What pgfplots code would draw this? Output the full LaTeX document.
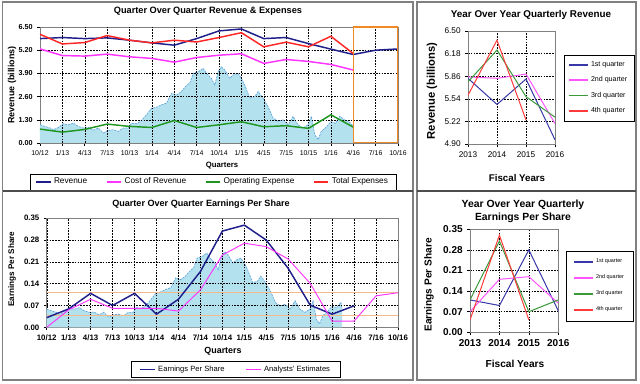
\documentclass[border=0pt]{standalone}
\usepackage{pgfplots}
\usepackage{pgfplotstable}
\pgfplotsset{compat=1.18}
\usepackage{fontspec}
\setmainfont{Liberation Sans}
\definecolor{rev}{HTML}{1F1F8C}
\definecolor{cor}{HTML}{FF33FF}
\definecolor{opx}{HTML}{1E9620}
\definecolor{tex}{HTML}{FF2626}
\definecolor{areaf}{HTML}{B4E1EE}
\definecolor{areal}{HTML}{5BA4DE}
\definecolor{obox}{HTML}{F08A24}
\definecolor{oline}{HTML}{F6B98A}
\definecolor{frame}{HTML}{808080}
\definecolor{q1}{HTML}{3838A8}
\definecolor{q2}{HTML}{FF55FF}
\definecolor{q3}{HTML}{3A9A3A}
\definecolor{q4}{HTML}{FF3A3A}
\newcommand{\fs}[1]{\fontsize{#1}{#1}\selectfont}
\tikzset{gridst/.style={black, line width=0.3pt, dash pattern=on 1.2pt off 0.9pt}}

\pgfplotstableread{
q v
0 1.02
0.22 0.93
0.45 0.84
0.6 0.74
0.82 0.87
1.04 1.08
1.26 1.02
1.49 1.11
1.71 0.93
1.93 0.84
2.16 0.87
2.38 0.71
2.6 0.84
2.83 0.56
3.05 0.71
3.27 0.74
3.5 0.65
3.72 0.84
3.94 0.84
4.09 1.11
4.32 1.08
4.54 1.26
4.76 1.58
4.99 1.95
5.21 2.00
5.43 2.14
5.65 2.23
5.88 2.79
6.1 2.69
6.32 2.88
6.47 3.12
6.7 3.38
6.85 3.90
7.07 3.99
7.29 4.18
7.44 3.90
7.66 3.62
7.81 3.25
7.96 3.99
8.11 4.27
8.26 4.09
8.48 3.62
8.63 3.81
8.85 3.90
9.0 3.62
9.15 3.25
9.38 2.51
9.6 2.60
9.75 2.88
9.97 2.51
10.19 2.04
10.42 1.39
10.64 1.21
10.86 1.30
11.09 1.02
11.31 1.49
11.53 1.02
11.76 0.84
11.98 1.02
12.13 1.49
12.28 0.46
12.43 0.19
12.57 0.65
12.8 0.90
13.0 1.20
13.2 1.10
13.4 1.50
13.6 1.30
13.8 1.20
14.0 0.95
}\areaRev

\pgfplotstableread{
q v
0 0.058
0.22 0.053
0.45 0.048
0.6 0.042
0.82 0.049
1.04 0.061
1.26 0.058
1.49 0.063
1.71 0.053
1.93 0.048
2.16 0.049
2.38 0.040
2.6 0.048
2.83 0.032
3.05 0.040
3.27 0.042
3.5 0.037
3.72 0.048
3.94 0.048
4.09 0.063
4.32 0.061
4.54 0.072
4.76 0.090
4.99 0.111
5.21 0.114
5.43 0.122
5.65 0.127
5.88 0.159
6.1 0.153
6.32 0.164
6.47 0.177
6.7 0.192
6.85 0.222
7.07 0.227
7.29 0.238
7.44 0.222
7.66 0.206
7.81 0.185
7.96 0.227
8.11 0.243
8.26 0.232
8.48 0.206
8.63 0.216
8.85 0.222
9.0 0.206
9.15 0.185
9.38 0.143
9.6 0.148
9.75 0.164
9.97 0.143
10.19 0.116
10.42 0.079
10.64 0.069
10.86 0.074
11.09 0.058
11.31 0.085
11.53 0.058
11.76 0.048
11.98 0.058
12.13 0.085
12.28 0.026
12.43 0.011
12.57 0.037
12.8 0.051
13.0 0.068
13.2 0.063
13.4 0.080
13.45 0.060
}\areaEps

\pgfplotsset{
  base/.style={
    scale only axis,
    axis line style={draw=frame, line width=0.6pt},
    grid=major,
    major grid style={gridst},
    tick align=outside, major tick length=2pt,
    tick style={black, line width=0.4pt},
    xtick pos=bottom, ytick pos=left,
    /pgf/number format/assume math mode=true,
    y tick label style={/pgf/number format/fixed, /pgf/number format/fixed zerofill, /pgf/number format/precision=2},
    legend cell align=left,
  },
  qtr/.style={xmin=0, xmax=16, xtick={0,...,16},
    xticklabels={10/12,1/13,4/13,7/13,10/13,1/14,4/14,7/14,10/14,1/15,4/15,7/15,10/15,1/16,4/16,7/16,10/16}},
  yoy/.style={xmin=2013, xmax=2016, xtick={2013,2014,2015,2016}, xticklabels={2013,2014,2015,2016},
    legend style={draw=black, anchor=center, row sep=2.2pt, inner xsep=3pt, inner ysep=3pt},
    legend image code/.code={\draw[##1, line width=1.1pt] (0pt,0pt) -- (14pt,0pt);}},
}

\begin{document}
\begin{tikzpicture}
\fill[white] (0pt,0pt) rectangle (480pt,287.25pt);

% ---------- top left ----------
\begin{axis}[base, qtr, at={(30pt,180pt)}, anchor=south west, width=268.5pt, height=87pt,
  ymin=0, ymax=6.5, ytick={0,1.3,2.6,3.9,5.2,6.5},
  x tick label style={font=\fs{5.2}}, y tick label style={font=\bfseries\fs{5.4}},
  legend columns=4,
  legend style={at={(0.483,-0.336)}, anchor=center, draw=black, font=\fs{6.2}, inner ysep=1pt, inner xsep=4pt,
    /tikz/every even column/.append style={column sep=12pt}},
  legend image code/.code={\draw[#1] (0pt,0pt) -- (11pt,0pt);}]
\addplot[fill=areaf, draw=none, forget plot] table[x=q,y=v] {\areaRev} \closedcycle;
\addplot[areal, line width=0.5pt, dash pattern=on 1.5pt off 0.8pt, forget plot] table[x=q,y=v] {\areaRev};
\pgfplotsinvokeforeach{1,...,15}{\draw[gridst] (axis cs:#1,0) -- (axis cs:#1,6.5);}
\pgfplotsinvokeforeach{1.3,2.6,3.9,5.2}{\draw[gridst] (axis cs:0,#1) -- (axis cs:16,#1);}
\addplot[rev, line width=1.1pt] coordinates {(0,5.85)(1,5.91)(2,5.85)(3,5.89)(4,5.76)(5,5.61)(6,5.48)(7,5.85)(8,6.28)(9,6.39)(10,5.85)(11,5.91)(12,5.57)(13,5.26)(14,4.96)(15,5.20)(16,5.27)};
\addplot[cor, line width=1.1pt] coordinates {(0,5.27)(1,4.90)(2,4.87)(3,4.98)(4,4.83)(5,4.74)(6,4.53)(7,4.79)(8,4.92)(9,5.00)(10,4.46)(11,4.68)(12,4.57)(13,4.40)(14,4.09)};
\addplot[opx, line width=1.1pt] coordinates {(0,0.78)(1,0.61)(2,0.76)(3,1.06)(4,0.93)(5,0.87)(6,1.26)(7,0.87)(8,1.02)(9,1.19)(10,0.91)(11,0.97)(12,0.82)(13,1.58)(14,0.89)};
\addplot[tex, line width=1.1pt] coordinates {(0,6.09)(1,5.55)(2,5.63)(3,6.02)(4,5.76)(5,5.61)(6,5.76)(7,5.66)(8,5.91)(9,6.18)(10,5.39)(11,5.65)(12,5.39)(13,5.98)(14,5.01)};
\draw[obox, line width=0.8pt] (axis cs:14,0) rectangle (axis cs:16,6.5);
\legend{Revenue, Cost of Revenue, Operating Expense, Total Expenses}
\end{axis}

% ---------- top right ----------
\begin{axis}[base, yoy, at={(351pt,179.25pt)}, anchor=south west, width=65.25pt, height=84.75pt,
  ymin=4.9, ymax=6.5, ytick={4.9,5.22,5.54,5.86,6.18,6.5},
  tick label style={font=\fs{6.2}},
  legend style={at={(1.506,0.496)}, font=\fs{5.3}}]
\addplot[q1, line width=0.75pt] coordinates {(2013,5.83)(2014,5.46)(2015,5.82)(2016,4.96)};
\addplot[q2, line width=0.75pt] coordinates {(2013,5.85)(2014,5.83)(2015,5.89)(2016,5.19)};
\addplot[q3, line width=0.75pt] coordinates {(2013,5.78)(2014,6.23)(2015,5.57)(2016,5.28)};
\addplot[q4, line width=0.75pt] coordinates {(2013,5.59)(2014,6.37)(2015,5.24)};
\legend{1st quarter, 2nd quarter, 3rd quarter, 4th quarter}
\end{axis}

% ---------- bottom left ----------
\begin{axis}[base, qtr, at={(35.03pt,41.78pt)}, anchor=south west, width=263.5pt, height=81.75pt,
  ymin=0, ymax=0.35, ytick={0,0.07,0.14,0.21,0.28,0.35},
  tick label style={font=\bfseries\fs{5.9}},
  legend columns=2,
  legend style={at={(0.539,-0.387)}, anchor=center, draw=black, font=\fs{5.7}, inner ysep=1pt, inner xsep=6pt,
    /tikz/every even column/.append style={column sep=14pt}},
  legend image code/.code={\draw[#1] (0pt,0pt) -- (11pt,0pt);}]
\addplot[fill=areaf, draw=none, forget plot] table[x=q,y=v] {\areaEps} \closedcycle;
\addplot[areal, line width=0.5pt, dash pattern=on 1.5pt off 0.8pt, forget plot] table[x=q,y=v] {\areaEps};
\pgfplotsinvokeforeach{1,...,15}{\draw[gridst] (axis cs:#1,0) -- (axis cs:#1,0.35);}
\pgfplotsinvokeforeach{0.07,0.14,0.21,0.28}{\draw[gridst] (axis cs:0,#1) -- (axis cs:16,#1);}
\addplot[oline, line width=0.8pt, forget plot] coordinates {(0,0.112)(16,0.112)};
\addplot[oline, line width=0.8pt, forget plot] coordinates {(0,0.037)(16,0.037)};
\addplot[rev, line width=1.1pt] coordinates {(0,0.031)(1,0.059)(2,0.109)(3,0.070)(4,0.109)(5,0.042)(6,0.090)(7,0.179)(8,0.309)(9,0.328)(10,0.280)(11,0.189)(12,0.071)(13,0.042)(14,0.069)};
\addplot[cor, line width=0.7pt] coordinates {(0,0.0)(1,0.056)(2,0.090)(3,0.061)(4,0.061)(5,0.061)(6,0.052)(7,0.120)(8,0.232)(9,0.270)(10,0.259)(11,0.219)(12,0.141)(13,0.020)(14,0.020)(15,0.101)(16,0.111)};
\legend{Earnings Per Share, Analysts' Estimates}
\end{axis}

% ---------- bottom right ----------
\begin{axis}[base, yoy, at={(352.5pt,38.03pt)}, anchor=south west, width=66.2pt, height=77.25pt,
  ymin=0, ymax=0.35, ytick={0,0.07,0.14,0.21,0.28,0.35},
  tick label style={font=\bfseries\fs{7.5}},
  legend style={at={(1.472,0.45)}, font=\fs{4.1}, row sep=3.6pt, inner xsep=5pt, inner ysep=4pt}]
\addplot[q1, line width=0.75pt] coordinates {(2013,0.110)(2014,0.091)(2015,0.280)(2016,0.073)};
\addplot[q2, line width=0.75pt] coordinates {(2013,0.070)(2014,0.180)(2015,0.189)(2016,0.099)};
\addplot[q3, line width=0.75pt] coordinates {(2013,0.110)(2014,0.310)(2015,0.070)(2016,0.110)};
\addplot[q4, line width=0.75pt] coordinates {(2013,0.042)(2014,0.330)(2015,0.042)};
\legend{1st quarter, 2nd quarter, 3rd quarter, 4th quarter}
\end{axis}

\begin{scope}[x=0.75pt, y=0.75pt]
\node[font=\bfseries\fs{6.9}] at (208,372) {Quarter Over Quarter Revenue \& Expenses};
\node[font=\bfseries\fs{6.7}, rotate=90] at (12,298) {Revenue (billions)};
\node[font=\bfseries\fs{5.8}] at (222,217) {Quarters};
\node[font=\bfseries\fs{7.4}] at (531,368) {Year Over Year Quarterly Revenue};
\node[font=\bfseries\fs{8.4}, rotate=90] at (432,292) {Revenue (billions)};
\node[font=\bfseries\fs{7.3}] at (517,205) {Fiscal Years};
\node[font=\bfseries\fs{6.8}] at (201,179) {Quarter Over Quarter Earnings Per Share};
\node[font=\bfseries\fs{6.1}, rotate=90] at (12,114) {Earnings Per Share};
\node[font=\bfseries\fs{6.7}] at (223,32) {Quarters};
\node[font=\bfseries\fs{7.8}] at (523,178) {Year Over Year Quarterly};
\node[font=\bfseries\fs{7.8}] at (523,165.5) {Earnings Per Share};
\node[font=\bfseries\fs{7.6}, rotate=90] at (429,98) {Earnings Per Share};
\node[font=\bfseries\fs{7.6}] at (515,19) {Fiscal Years};
\draw[frame, line width=1.1pt] (2.5,3) rectangle (413,381);
\draw[frame, line width=1.1pt] (417,3) rectangle (636,381);
\draw[black!70, line width=1.1pt] (2.5,192) -- (413,192);
\draw[black!70, line width=1.1pt] (417,192) -- (636,192);
\end{scope}
\end{tikzpicture}
\end{document}
